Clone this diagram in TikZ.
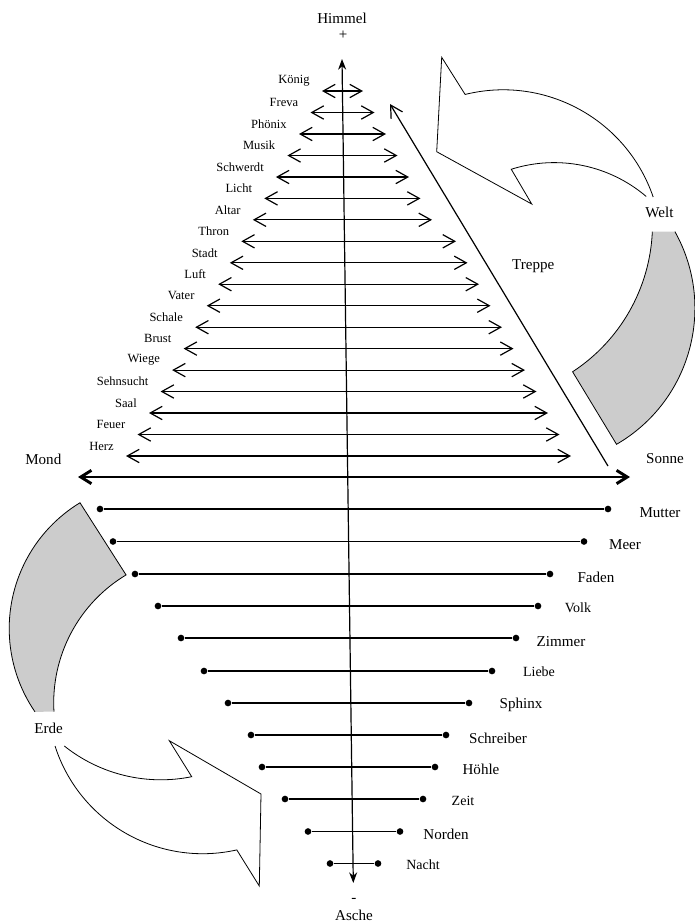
\documentclass[tikz,border=0pt]{standalone}
\usepackage{fontspec}
\setmainfont{Liberation Serif}
\usetikzlibrary{arrows.meta,calc}

\begin{document}
\begin{tikzpicture}[x=0.75pt, y=-0.75pt,
		>={Straight Barb[length=9pt,width=10pt]},
		wort/.style={inner sep=0pt, font=\fontsize{11.3}{13}\selectfont},
		mittelwort/.style={inner sep=0pt, font=\fontsize{10.5}{12}\selectfont},
		kleinwort/.style={inner sep=0pt, anchor=east, font=\fontsize{9.4}{11}\selectfont},
		sprosse/.style={<->, line width=0.9pt},
		strich/.style={line width=0.9pt},
		punkt/.style={circle, fill=black, inner sep=0pt, minimum size=5pt},
		bogen/.style={line width=0.6pt}]
			%%%%% START %%%%%
			
			\useasboundingbox (0, 0) rectangle (695, 922);
			
			% curved arrows
			\coordinate (mw1) at (503.2, 248.3);
			\coordinate (mw2) at (554.2, 304.6);
			\coordinate (mg1) at (475.9, 224);
			\coordinate (mg2) at (537.7, 308.3);
			\coordinate (mg3) at (202.9, 702.8);
			\coordinate (mg4) at (156.5, 628.6);
			\coordinate (mw3) at (202.7, 698.6);
			\coordinate (mw4) at (160.85, 625);
			
			\filldraw[bogen, fill=white] ($(mw1)+(-18.9:158.5)$) arc (-18.9:-103.9:158.5) -- (441.7, 57.3) -- (436.7, 151.7) -- (531.7, 204) -- ($(mw2)+(-107.6:142)$) arc (-107.6:-49.6:142);
			\filldraw[bogen, fill=black!20] ($(mg1)+(2.5:176.6)$) arc (2.5:56.8:176.6) -- ($(mg2)+(59.9:157.2)$) arc (59.9:-29.2:157.2);
			\filldraw[bogen, fill=black!20] ($(mg3)+(-183.4:149.2)$) arc (-183.4:-121:149.2) -- ($(mg4)+(-121.3:147.3)$) arc (-121.3:-214.4:147.3);
			\filldraw[bogen, fill=white] ($(mw3)+(162.2:155.1)$) arc (162.2:77.3:155.1) -- (259.3, 886) -- (261, 794) -- (169.3, 740.7) -- ($(mw4)+(78.5:154.8)$) arc (78.5:128.6:154.8);
			
			\node[wort] (welt) at (659.5, 212) {Welt};
			\node[wort] (erde) at (48.7, 728) {Erde};
			
			% axis
			\coordinate (oben) at (342, 59);
			\coordinate (unten) at (353.3, 883);
			\draw[line width=0.9pt, {Stealth[length=8pt,width=6pt]}-{Stealth[length=8pt,width=6pt]}] (oben) -- (unten);
			\node[wort] (himmel) at (342, 18) {Himmel};
			\node[wort] (plus) at (343, 35) {+};
			\node[wort] (minus) at (354, 900) {-};
			\node[wort] (asche) at (354, 915) {Asche};
			
			% Mond - Sonne
			\coordinate (mondP) at (78, 477);
			\coordinate (sonneP) at (630, 477);
			\draw[<->, line width=2.2pt, >={Straight Barb[length=8pt,width=10pt]}] (mondP) -- (sonneP);
			\node[wort] (mond) at (43.3, 459) {Mond};
			\node[wort] (sonne) at (665, 459) {Sonne};
			
			% Treppe
			\coordinate (treppeU) at (608, 466);
			\coordinate (treppeO) at (390, 104);
			\draw[->, line width=0.9pt] (treppeU) -- (treppeO);
			\node[wort] (treppe) at (533.3, 266) {Treppe};
			
			% upper rungs
			\coordinate (koenigL) at (322, 91);		\coordinate (koenigR) at (363, 91);
			\draw[sprosse] (koenigL) -- (koenigR);		\node[kleinwort] (koenig) at (310, 81) {König};
			\coordinate (frevaL) at (310.5, 112.5);		\coordinate (frevaR) at (374.5, 112.5);
			\draw[sprosse] (frevaL) -- (frevaR);		\node[kleinwort] (freva) at (298.5, 102.5) {Freva};
			\coordinate (phoenixL) at (299, 134);		\coordinate (phoenixR) at (386, 134);
			\draw[sprosse] (phoenixL) -- (phoenixR);		\node[kleinwort] (phoenix) at (287, 124) {Phönix};
			\coordinate (musikL) at (287.4, 155.5);		\coordinate (musikR) at (397.5, 155.5);
			\draw[sprosse] (musikL) -- (musikR);		\node[kleinwort] (musik) at (275.4, 145.5) {Musik};
			\coordinate (schwerdtL) at (275.9, 177);		\coordinate (schwerdtR) at (409, 177);
			\draw[sprosse] (schwerdtL) -- (schwerdtR);		\node[kleinwort] (schwerdt) at (264, 167) {Schwerdt};
			\coordinate (lichtL) at (264.3, 198.4);		\coordinate (lichtR) at (420.5, 198.4);
			\draw[sprosse] (lichtL) -- (lichtR);		\node[kleinwort] (licht) at (252.3, 188.4) {Licht};
			\coordinate (altarL) at (252.8, 219.8);		\coordinate (altarR) at (432, 219.8);
			\draw[sprosse] (altarL) -- (altarR);		\node[kleinwort] (altar) at (240.8, 209.8) {Altar};
			\coordinate (thronL) at (241.3, 241.3);		\coordinate (thronR) at (456, 241.3);
			\draw[sprosse] (thronL) -- (thronR);		\node[kleinwort] (thron) at (229.3, 231.3) {Thron};
			\coordinate (stadtL) at (229.8, 262.8);		\coordinate (stadtR) at (467.5, 262.8);
			\draw[sprosse] (stadtL) -- (stadtR);		\node[kleinwort] (stadt) at (217.8, 252.8) {Stadt};
			\coordinate (luftL) at (218.2, 284.2);		\coordinate (luftR) at (479, 284.2);
			\draw[sprosse] (luftL) -- (luftR);		\node[kleinwort] (luft) at (206.2, 274.2) {Luft};
			\coordinate (vaterL) at (206.7, 305.7);		\coordinate (vaterR) at (490.5, 305.7);
			\draw[sprosse] (vaterL) -- (vaterR);		\node[kleinwort] (vater) at (194.7, 295.7) {Vater};
			\coordinate (schaleL) at (195.2, 327.2);		\coordinate (schaleR) at (502, 327.2);
			\draw[sprosse] (schaleL) -- (schaleR);		\node[kleinwort] (schale) at (183.2, 317.2) {Schale};
			\coordinate (brustL) at (183.6, 348.6);		\coordinate (brustR) at (513.5, 348.6);
			\draw[sprosse] (brustL) -- (brustR);		\node[kleinwort] (brust) at (171.6, 338.6) {Brust};
			\coordinate (wiegeL) at (172.1, 370.1);		\coordinate (wiegeR) at (525, 370.1);
			\draw[sprosse] (wiegeL) -- (wiegeR);		\node[kleinwort] (wiege) at (160.1, 360.1) {Wiege};
			\coordinate (sehnsuchtL) at (160.6, 391.5);	\coordinate (sehnsuchtR) at (536.5, 391.5);
			\draw[sprosse] (sehnsuchtL) -- (sehnsuchtR);	\node[kleinwort] (sehnsucht) at (148.6, 381.5) {Sehnsucht};
			\coordinate (saalL) at (149, 413);		\coordinate (saalR) at (548, 413);
			\draw[sprosse] (saalL) -- (saalR);		\node[kleinwort] (saal) at (137, 403) {Saal};
			\coordinate (feuerL) at (137.5, 434.5);		\coordinate (feuerR) at (559.5, 434.5);
			\draw[sprosse] (feuerL) -- (feuerR);		\node[kleinwort] (feuer) at (125.5, 424.5) {Feuer};
			\coordinate (herzL) at (126, 456);		\coordinate (herzR) at (571, 456);
			\draw[sprosse] (herzL) -- (herzR);		\node[kleinwort] (herz) at (114, 446) {Herz};
			
			% lower rungs
			\node[punkt] (mutterL) at (100, 509) {};		\node[punkt] (mutterR) at (608, 509) {};
			\draw[strich] (mutterL) -- (mutterR);		\node[wort] (mutter) at (660, 512.5) {Mutter};
			\node[punkt] (meerL) at (113, 541.5) {};		\node[punkt] (meerR) at (584, 541.5) {};
			\draw[strich] (meerL) -- (meerR);		\node[wort] (meer) at (625, 545) {Meer};
			\node[punkt] (fadenL) at (135, 574) {};		\node[punkt] (fadenR) at (550, 574) {};
			\draw[strich] (fadenL) -- (fadenR);		\node[wort] (faden) at (596, 577) {Faden};
			\node[punkt] (volkL) at (158, 606) {};		\node[punkt] (volkR) at (538, 606) {};
			\draw[strich] (volkL) -- (volkR);		\node[mittelwort] (volk) at (578, 608) {Volk};
			\node[punkt] (zimmerL) at (181, 638) {};		\node[punkt] (zimmerR) at (516, 638) {};
			\draw[strich] (zimmerL) -- (zimmerR);		\node[wort] (zimmer) at (561, 642) {Zimmer};
			\node[punkt] (liebeL) at (204, 671) {};		\node[punkt] (liebeR) at (492, 671) {};
			\draw[strich] (liebeL) -- (liebeR);		\node[mittelwort] (liebe) at (539, 672) {Liebe};
			\node[punkt] (sphinxL) at (228, 703) {};		\node[punkt] (sphinxR) at (469, 703) {};
			\draw[strich] (sphinxL) -- (sphinxR);		\node[wort] (sphinx) at (521, 705) {Sphinx};
			\node[punkt] (schreiberL) at (251, 735) {};	\node[punkt] (schreiberR) at (446, 735) {};
			\draw[strich] (schreiberL) -- (schreiberR);	\node[wort] (schreiber) at (498, 738) {Schreiber};
			\node[punkt] (hoehleL) at (262, 767) {};		\node[punkt] (hoehleR) at (435, 767) {};
			\draw[strich] (hoehleL) -- (hoehleR);		\node[wort] (hoehle) at (481, 769.5) {Höhle};
			\node[punkt] (zeitL) at (285, 799) {};		\node[punkt] (zeitR) at (423, 799) {};
			\draw[strich] (zeitL) -- (zeitR);		\node[mittelwort] (zeit) at (463, 801) {Zeit};
			\node[punkt] (nordenL) at (308, 831.5) {};		\node[punkt] (nordenR) at (400, 831.5) {};
			\draw[strich] (nordenL) -- (nordenR);		\node[wort] (norden) at (446, 834) {Norden};
			\node[punkt] (nachtL) at (330, 863.5) {};		\node[punkt] (nachtR) at (378, 863.5) {};
			\draw[strich] (nachtL) -- (nachtR);		\node[mittelwort] (nacht) at (423, 865) {Nacht};
			
			%%%%% END %%%%%
\end{tikzpicture}
\end{document}
